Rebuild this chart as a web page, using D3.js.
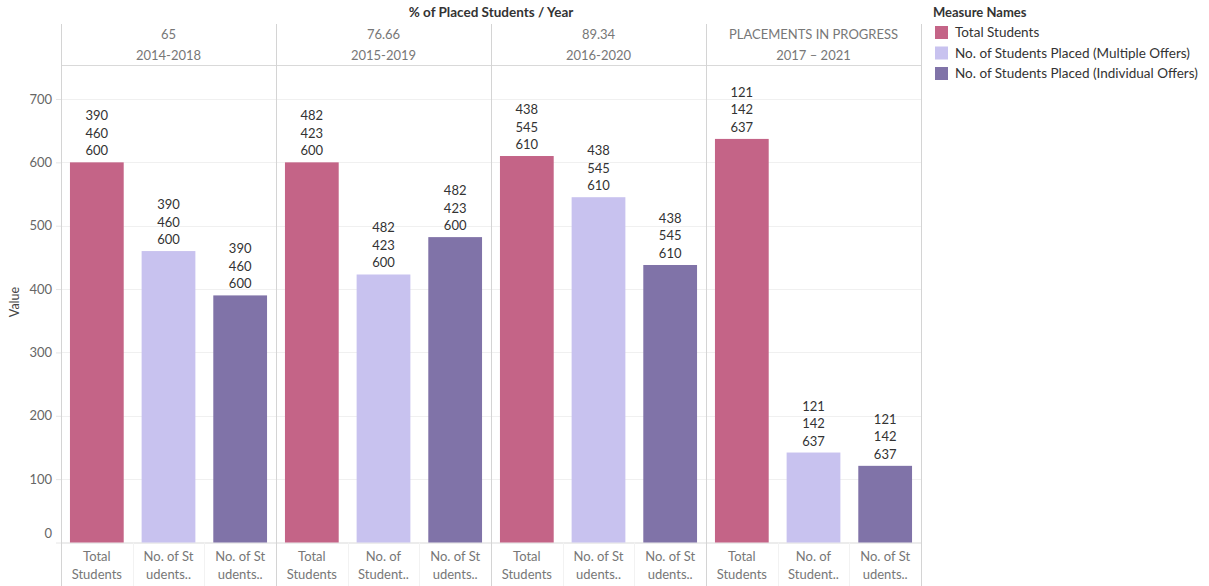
<!DOCTYPE html>
<html><head><meta charset="utf-8">
<script src="https://cdn.jsdelivr.net/npm/d3@7"></script>
<style>
body{margin:0;background:#fff;}
svg{display:block;font-family:Lato,"Open Sans",sans-serif;}
</style></head>
<body><svg id="c" width="1209" height="586"></svg>
<script>
const years = ["2014-2018","2015-2019","2016-2020","2017 \u2013 2021"];
const pctPlaced = ["65","76.66","89.34","PLACEMENTS IN PROGRESS"];
const measures = ["Total Students","No. of Students Placed (Multiple Offers)","No. of Students Placed (Individual Offers)"];
const totalStudents = [600,600,610,637];
const multipleOffers = [460,423,545,142];
const individualOffers = [390,482,438,121];
const colors = ["#c46487","#c8c2ef","#8073a8"];
const tickLabels = [
  [["Total","Students"],["No. of St","udents.."],["No. of St","udents.."]],
  [["Total","Students"],["No. of","Student.."],["No. of St","udents.."]],
  [["Total","Students"],["No. of St","udents.."],["No. of St","udents.."]],
  [["Total","Students"],["No. of","Student.."],["No. of St","udents.."]]
];
const yTicks = [0,100,200,300,400,500,600,700];

const svg = d3.select("#c");
const left = 61, right = 921, headTop = 24, headBottom = 65, base = 542.5;
const x = d3.scaleBand().domain(years).range([left, right]).padding(0);
const xi = d3.scaleBand().domain(measures).range([0, x.bandwidth()]).paddingInner(0.25).paddingOuter(0.125);
const y = d3.scaleLinear().domain([0,700]).range([base, 99]);

// gridlines
svg.append("g").selectAll("line").data(yTicks.filter(d=>d>0)).join("line")
  .attr("x1", left).attr("x2", right).attr("y1", d=>Math.round(y(d))+0.5).attr("y2", d=>Math.round(y(d))+0.5)
  .attr("stroke", "#f0f0f0");

// y axis
const ya = svg.append("g").attr("transform", `translate(${left},0)`)
  .call(d3.axisLeft(y).tickValues(yTicks).tickSize(5).tickPadding(4));
ya.select(".domain").remove();
ya.selectAll(".tick line").attr("stroke", "#e6e6e6");
ya.selectAll(".tick text").attr("fill", "#666").attr("font-size", 13).attr("font-family", "Lato,sans-serif");
ya.selectAll(".tick").filter(d=>d===0).select("text").attr("dy", "-0.4em");

svg.append("text").attr("transform", `translate(19,302) rotate(-90)`).attr("text-anchor","middle")
  .attr("fill","#444").attr("font-size",12.5).text("Value");

// header lines
svg.append("line").attr("x1", left).attr("x2", right).attr("y1", headBottom+0.5).attr("y2", headBottom+0.5).attr("stroke","#d9d9d9");
svg.append("line").attr("x1", left).attr("x2", right).attr("y1", base+0.5).attr("y2", base+0.5).attr("stroke","#d9d9d9");
svg.append("g").selectAll("line").data(years.concat(["end"])).join("line")
  .attr("x1", (d,i)=> i<years.length ? Math.round(x(d))+0.5 : right+0.5)
  .attr("x2", (d,i)=> i<years.length ? Math.round(x(d))+0.5 : right+0.5)
  .attr("y1", headTop).attr("y2", 586).attr("stroke","#d4d4d4");

svg.append("text").attr("x", (left+right)/2).attr("y", 17).attr("text-anchor","middle")
  .attr("font-size",13.5).attr("font-weight","bold").attr("fill","#333").text("% of Placed Students / Year");

const hdr = svg.append("g");
years.forEach((yr,i)=>{
  const cx = x(yr) + x.bandwidth()/2;
  hdr.append("text").attr("x",cx).attr("y",39).attr("text-anchor","middle").attr("font-size",13).attr("fill","#777").text(pctPlaced[i]);
  hdr.append("text").attr("x",cx).attr("y",60).attr("text-anchor","middle").attr("font-size",13).attr("fill","#777").text(yr);
});

// bars
const rows = [];
years.forEach((yr,i)=>{
  const vals = [totalStudents[i], multipleOffers[i], individualOffers[i]];
  measures.forEach((m,j)=> rows.push({yr, i, m, j, v: vals[j]}));
});
const g = svg.append("g");
g.selectAll("rect").data(rows).join("rect")
  .attr("x", d=> x(d.yr) + xi(d.m)).attr("width", xi.bandwidth())
  .attr("y", d=> y(d.v)).attr("height", d=> base - y(d.v))
  .attr("fill", d=> colors[d.j]);

// value labels (3 lines: individual, multiple, total)
rows.forEach(d=>{
  const cx = x(d.yr) + xi(d.m) + xi.bandwidth()/2;
  const lines = [individualOffers[d.i], multipleOffers[d.i], totalStudents[d.i]];
  const t = g.append("text").attr("text-anchor","middle").attr("font-size",13).attr("fill","#333");
  lines.forEach((v,k)=>{
    t.append("tspan").attr("x",cx).attr("y", y(d.v) - 7 - (2-k)*17.5).text(v);
  });
});

// category labels
rows.forEach(d=>{
  const cx = x(d.yr) + xi(d.m) + xi.bandwidth()/2;
  const lab = tickLabels[d.i][d.j];
  lab.forEach((s,k)=>{
    svg.append("text").attr("x",cx).attr("y",561 + k*18).attr("text-anchor","middle")
      .attr("font-size",13).attr("fill","#777").text(s);
  });
});
// small separators under baseline
rows.forEach(d=>{
  if (d.j>0) {
    const sx = Math.round(x(d.yr) + xi(d.m) - xi.step()*xi.paddingInner()/2)+0.5;
    svg.append("line").attr("x1",sx).attr("x2",sx).attr("y1",base).attr("y2",586).attr("stroke","#f2f2f2");
  }
});

// legend
const lg = svg.append("g").attr("transform","translate(933,0)");
lg.append("text").attr("x",0).attr("y",17).attr("font-size",13).attr("font-weight","bold").attr("fill","#333").text("Measure Names");
measures.forEach((m,j)=>{
  lg.append("rect").attr("x",2).attr("y",26+j*20.5).attr("width",13).attr("height",13).attr("fill",colors[j]);
  lg.append("text").attr("x",22).attr("y",37+j*20.5).attr("font-size",13.5).attr("fill","#333").text(m);
});
</script></body></html>
